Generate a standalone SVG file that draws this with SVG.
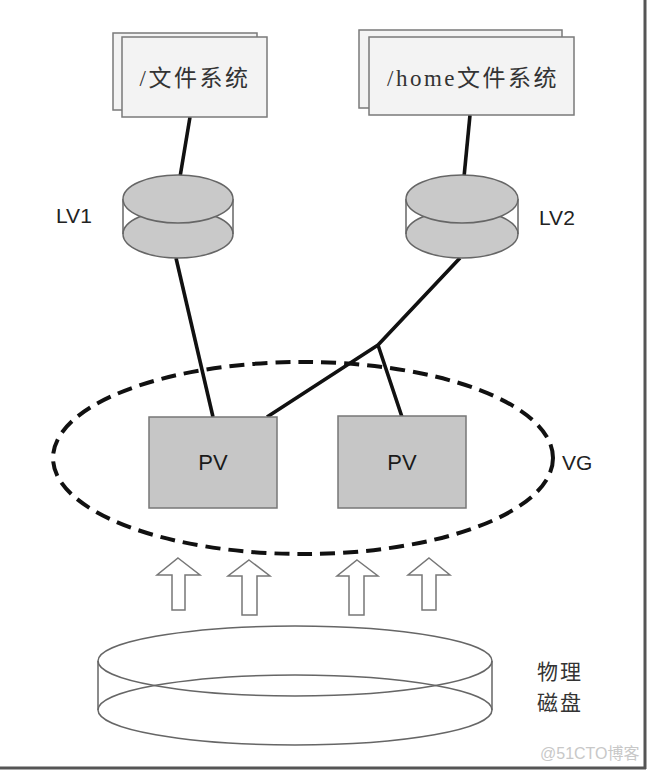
<svg xmlns="http://www.w3.org/2000/svg" width="649" height="772" viewBox="0 0 649 772">
<style>
.doc{fill:#f3f3f3;stroke:#7a7a7a;stroke-width:1.5}
.doct{font-family:"Liberation Serif","Noto Sans CJK SC",serif;font-size:23px;fill:#333;letter-spacing:2.5px;text-anchor:middle}
.cyl{fill:#c9c9c9;stroke:#666;stroke-width:1.5}
.side{stroke:#666;stroke-width:1.5;fill:none}
.lbl{font-family:"Liberation Sans",Arial,sans-serif;font-size:21px;fill:#222}
.pv{fill:#c6c6c6;stroke:#777;stroke-width:1.5}
.pvt{font-family:"Liberation Sans",Arial,sans-serif;font-size:22px;fill:#1a1a1a;text-anchor:middle}
.wire{stroke:#111;stroke-width:3.6;fill:none;stroke-linejoin:round}
.arrow{fill:#fff;stroke:#777;stroke-width:1.5;stroke-linejoin:miter}
.disk{fill:none;stroke:#666;stroke-width:1.5}
.cjk{font-family:"Noto Sans CJK SC",sans-serif;font-size:21px;fill:#333;letter-spacing:2px}
</style>
<rect width="649" height="772" fill="#fff"/>
<!-- frame shadow -->
<line x1="645" y1="0" x2="645" y2="769" stroke="#555" stroke-width="3"/>
<line x1="0" y1="768" x2="646" y2="768" stroke="#555" stroke-width="3"/>

<g id="connectors">
<line class="wire" x1="190" y1="117" x2="180" y2="177"/>
<line class="wire" x1="470" y1="115" x2="464" y2="177"/>
<line class="wire" x1="176" y1="258" x2="213" y2="417"/>
<polyline class="wire" points="460,258 378,345 267,417"/>
<line class="wire" x1="378" y1="345" x2="402" y2="417"/>
</g>

<g id="fs-root">
<rect class="doc" x="113" y="33" width="144" height="77"/>
<rect class="doc" x="122" y="37" width="145" height="80"/>
<text class="doct" x="195" y="86">/文件系统</text>
</g>

<g id="fs-home">
<rect class="doc" x="359" y="30" width="203" height="78"/>
<rect class="doc" x="369" y="37" width="205" height="78"/>
<text class="doct" x="473" y="86">/home文件系统</text>
</g>

<g id="lv1">
<ellipse class="cyl" cx="178" cy="234" rx="55" ry="24"/>
<line class="side" x1="123" y1="199" x2="123" y2="234"/>
<line class="side" x1="233" y1="199" x2="233" y2="234"/>
<ellipse class="cyl" cx="178" cy="199" rx="55" ry="24"/>
<text class="lbl" x="56" y="223">LV1</text>
</g>

<g id="lv2">
<ellipse class="cyl" cx="462" cy="234" rx="56" ry="24"/>
<line class="side" x1="406" y1="199" x2="406" y2="234"/>
<line class="side" x1="518" y1="199" x2="518" y2="234"/>
<ellipse class="cyl" cx="462" cy="199" rx="56" ry="24"/>
<text class="lbl" x="539" y="225">LV2</text>
</g>

<g id="vg">
<ellipse cx="303" cy="458" rx="250" ry="96" fill="none" stroke="#111" stroke-width="4" stroke-dasharray="15 8"/>
<text class="lbl" x="562" y="470">VG</text>
</g>

<g id="pv1">
<rect class="pv" x="149" y="417" width="128" height="91"/>
<text class="pvt" x="213" y="470">PV</text>
</g>

<g id="pv2">
<rect class="pv" x="338" y="416" width="128" height="92"/>
<text class="pvt" x="402" y="470">PV</text>
</g>

<g id="arrows">
<path class="arrow" d="M178,558 L200,575 L185,575 L185,610 L172,610 L172,575 L157,575 Z"/>
<path class="arrow" d="M249,560 L270,576 L257,576 L257,615 L242,615 L242,576 L228,576 Z"/>
<path class="arrow" d="M357,560 L378,576 L364,576 L364,615 L349,615 L349,576 L337,576 Z"/>
<path class="arrow" d="M429,558 L450,575 L436,575 L436,610 L422,610 L422,575 L408,575 Z"/>
</g>

<g id="disk">
<ellipse class="disk" cx="295" cy="710" rx="197" ry="35"/>
<line class="disk" x1="98" y1="661" x2="98" y2="710"/>
<line class="disk" x1="492" y1="661" x2="492" y2="710"/>
<ellipse class="disk" cx="295" cy="661" rx="197" ry="35"/>
<text class="cjk" x="537" y="679">物理</text>
<text class="cjk" x="537" y="710">磁盘</text>
</g>

<text x="540" y="759" font-family="Liberation Sans,'Noto Sans CJK SC',sans-serif" font-size="16" fill="#c8c8c8">@51CTO博客</text>
</svg>
